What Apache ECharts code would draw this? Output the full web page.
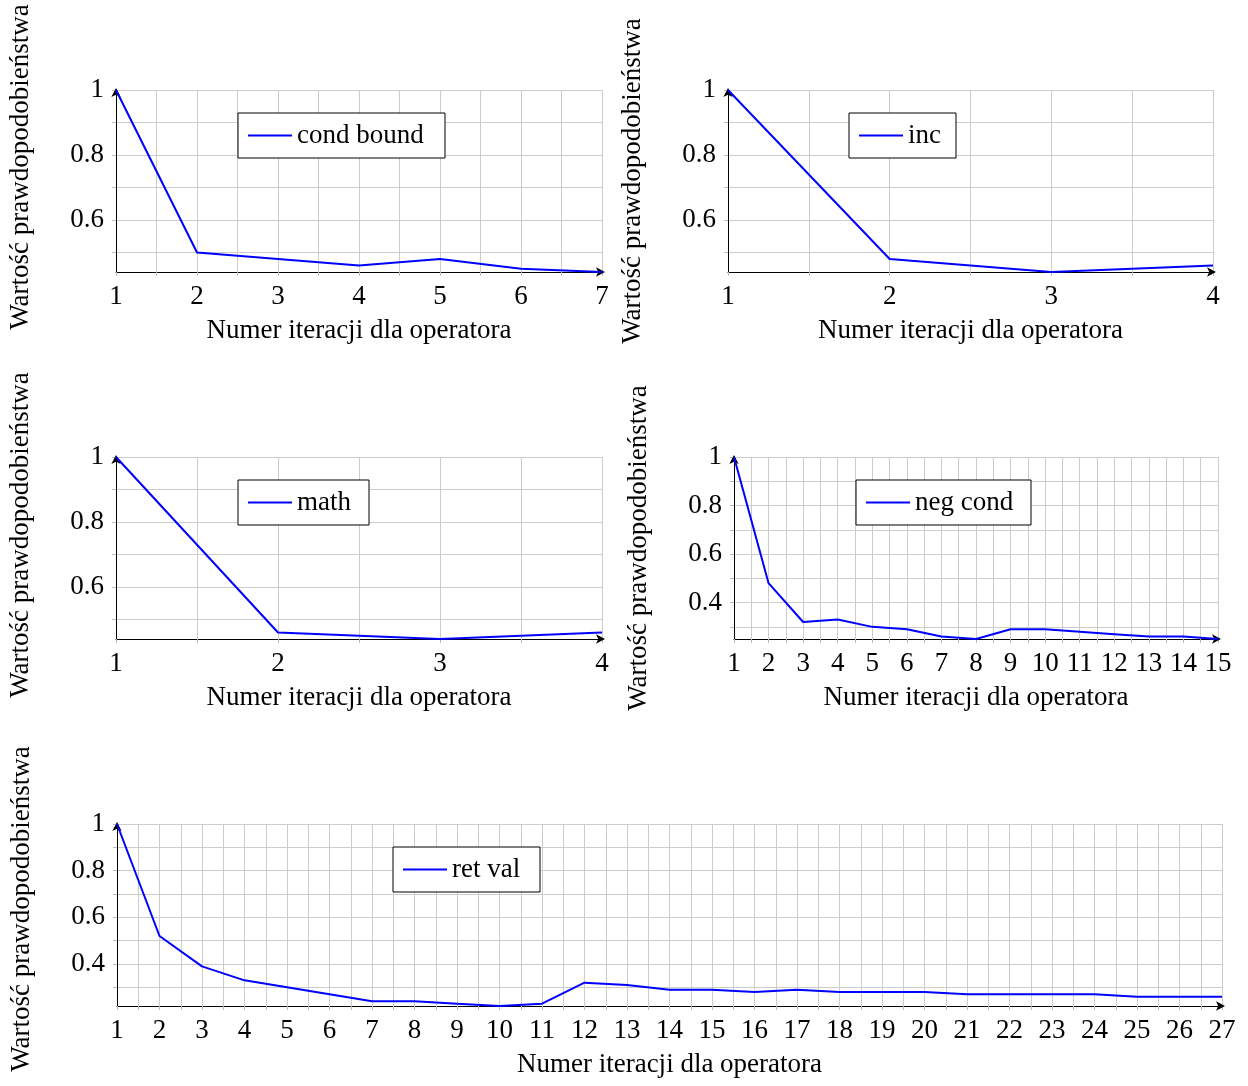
<!DOCTYPE html>
<html>
<head>
<meta charset="utf-8">
<script src="https://cdn.jsdelivr.net/npm/echarts@6/dist/echarts.min.js"></script>
<style>html,body{margin:0;padding:0;background:#fff;}#c{width:1248px;height:1086px;}</style>
</head>
<body>
<div id="c"></div>
<script>
// ---- data ----
const condBoundX = [1, 2, 3, 4, 5, 6, 7];
const condBoundY = [1.0, 0.50, 0.48, 0.46, 0.48, 0.45, 0.44];
const incX = [1, 2, 3, 4];
const incY = [1.0, 0.48, 0.44, 0.46];
const mathX = [1, 2, 3, 4];
const mathY = [1.0, 0.46, 0.44, 0.46];
const negCondX = [1, 2, 3, 4, 5, 6, 7, 8, 9, 10, 11, 12, 13, 14, 15];
const negCondY = [1.0, 0.48, 0.32, 0.33, 0.30, 0.29, 0.26, 0.25, 0.29, 0.29, 0.28, 0.27, 0.26, 0.26, 0.25];
const retValX = [1, 2, 3, 4, 5, 6, 7, 8, 9, 10, 11, 12, 13, 14, 15, 16, 17, 18, 19, 20, 21, 22, 23, 24, 25, 26, 27];
const retValY = [1.0, 0.52, 0.39, 0.33, 0.30, 0.27, 0.24, 0.24, 0.23, 0.22, 0.23, 0.32, 0.31, 0.29, 0.29, 0.28, 0.29, 0.28, 0.28, 0.28, 0.27, 0.27, 0.27, 0.27, 0.26, 0.26, 0.26];

const yLabelsA = [0.6, 0.8, 1];
const yGridA = [0.5, 0.6, 0.7, 0.8, 0.9, 1];
const yLabelsB = [0.4, 0.6, 0.8, 1];
const yGridB = [0.3, 0.4, 0.5, 0.6, 0.7, 0.8, 0.9, 1];

const seriesNames = ['cond bound', 'inc', 'math', 'neg cond', 'ret val'];
const xTitle = 'Numer iteracji dla operatora';
const yTitle = 'Wartość prawdopodobieństwa';

// ---- layout / style ----
const FONT = 'Liberation Serif';
const FS = 27;
const GRID_COLOR = '#cccccc';
const panels = [
  {x: condBoundX, y: condBoundY, yl: yLabelsA, yg: yGridA, yShift: 14, grid: {left: 116, top: 90, width: 486, height: 182}, legend: {left: 238, top: 113, tw: 136}},
  {x: incX, y: incY, yl: yLabelsA, yg: yGridA, yShift: 0, grid: {left: 728, top: 90, width: 485, height: 182}, legend: {left: 849, top: 113, tw: 36}},
  {x: mathX, y: mathY, yl: yLabelsA, yg: yGridA, yShift: 13, grid: {left: 116, top: 457, width: 486, height: 182}, legend: {left: 238, top: 480, tw: 60}},
  {x: negCondX, y: negCondY, yl: yLabelsB, yg: yGridB, yShift: 0, grid: {left: 734, top: 457, width: 484, height: 182}, legend: {left: 856, top: 480, tw: 104}},
  {x: retValX, y: retValY, yl: yLabelsB, yg: yGridB, yShift: 6, grid: {left: 116, top: 824, width: 1106, height: 182}, legend: {left: 393, top: 847, tw: 76}}
];

const option = {
  animation: false,
  backgroundColor: '#ffffff',
  textStyle: {fontFamily: FONT, color: '#000'},
  grid: [], xAxis: [], yAxis: [], series: [], legend: []
};

panels.forEach((p, i) => {
  option.grid.push(Object.assign({containLabel: false}, p.grid));
  option.xAxis.push({
    type: 'value', gridIndex: i,
    min: p.x[0], max: p.x[p.x.length - 1], interval: 1,
    name: xTitle, nameLocation: 'middle', nameGap: 45,
    nameTextStyle: {fontFamily: FONT, fontSize: FS, color: '#000'},
    axisLine: {show: true, onZero: false, symbol: ['none', 'arrow'], symbolSize: [7, 9], symbolOffset: [0, 3], lineStyle: {color: '#000', width: 1}},
    axisTick: {show: true, length: 4, lineStyle: {color: '#bbbbbb'}},
    minorTick: {show: true, splitNumber: 2, length: 4, lineStyle: {color: '#bbbbbb'}},
    splitLine: {show: true, lineStyle: {color: GRID_COLOR, width: 1}},
    minorSplitLine: {show: true, lineStyle: {color: GRID_COLOR, width: 1}},
    axisLabel: {fontFamily: FONT, fontSize: FS, color: '#000', margin: 11, showMinLabel: true, showMaxLabel: true, hideOverlap: false}
  });
  option.yAxis.push({
    type: 'value', gridIndex: i,
    min: 'dataMin', max: 'dataMax',
    name: yTitle, nameLocation: 'middle', nameGap: 82, nameRotate: 90,
    nameTextStyle: {fontFamily: FONT, fontSize: FS, color: '#000', padding: [0, 0, 0, 2 * p.yShift]},
    axisLine: {show: true, onZero: false, symbol: ['none', 'arrow'], symbolSize: [7, 9], symbolOffset: [0, 2], lineStyle: {color: '#000', width: 1}},
    axisTick: {show: true, length: 4, customValues: p.yg, lineStyle: {color: '#bbbbbb'}},
    splitLine: {show: true, lineStyle: {color: GRID_COLOR, width: 1}},
    axisLabel: {fontFamily: FONT, fontSize: FS, color: '#000', margin: 12, customValues: p.yl}
  });
  option.series.push({
    type: 'line', name: seriesNames[i], xAxisIndex: i, yAxisIndex: i,
    data: p.x.map((v, k) => [v, p.y[k]]),
    symbol: 'none', showSymbol: false,
    lineStyle: {color: '#0000ff', width: 2}, itemStyle: {color: '#0000ff'},
    z: 5
  });
  option.legend.push({
    data: [seriesNames[i]],
    left: p.legend.left, top: p.legend.top,
    orient: 'horizontal',
    icon: 'rect',
    backgroundColor: '#ffffff', borderColor: '#000', borderWidth: 1, borderRadius: 0,
    padding: [9, 12, 9, 10],
    itemWidth: 44, itemHeight: 2,
    selectedMode: false,
    textStyle: {fontFamily: FONT, fontSize: FS, color: '#000', lineHeight: 26, width: p.legend.tw}
  });
});

const chart = echarts.init(document.getElementById('c'), null, {renderer: 'canvas'});
chart.setOption(option);
</script>
</body>
</html>
